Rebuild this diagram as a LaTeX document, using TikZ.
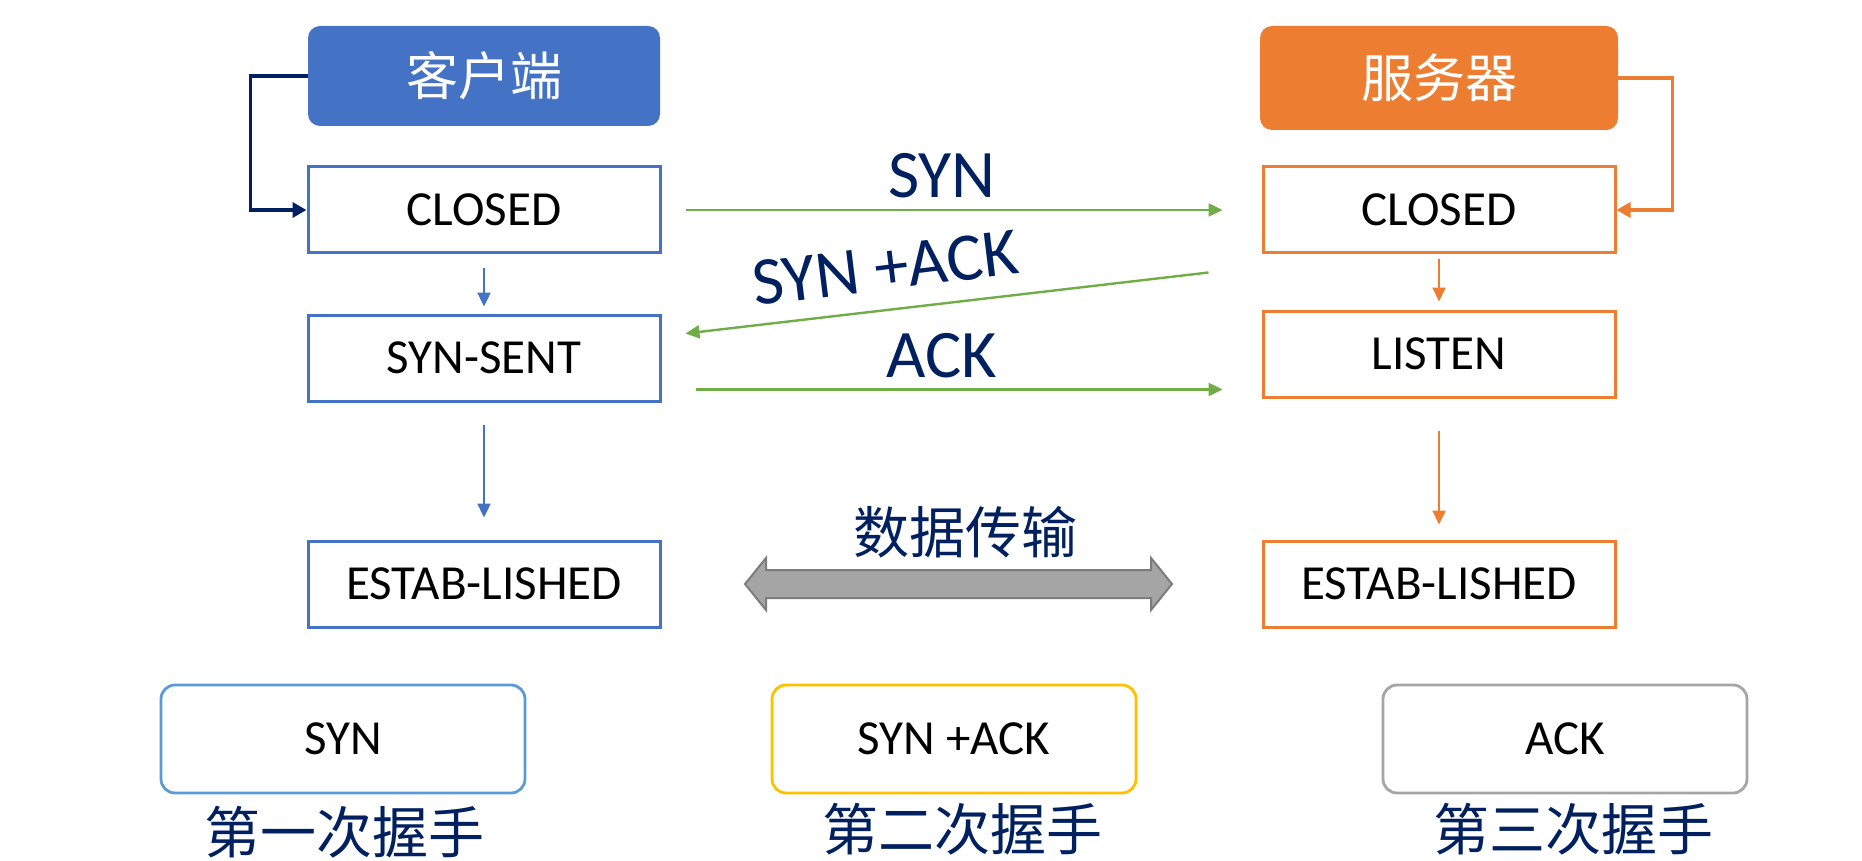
\documentclass[tikz,border=0pt]{standalone}
\usepackage{fontspec}
\setmainfont{Carlito}
\newfontfamily\cjk{Noto Sans CJK SC}
\usetikzlibrary{arrows.meta}
\definecolor{cblue}{HTML}{4472C4}
\definecolor{sorange}{HTML}{ED7D31}
\definecolor{lgreen}{HTML}{70AD47}
\definecolor{navy}{HTML}{002060}
\definecolor{lblue}{HTML}{5B9BD5}
\definecolor{gold}{HTML}{FFC000}
\definecolor{lgray}{HTML}{A5A5A5}
\begin{document}
\begin{tikzpicture}[x=0.5pt, y=-0.5pt,
    head/.style={rounded corners=6pt, minimum width=176pt, minimum height=50pt,
        text=white, font=\cjk\fontsize{26}{30}\selectfont},
    state/.style={draw, line width=1.5pt, fill=white, minimum width=176pt,
        minimum height=43pt, font=\fontsize{24.5}{28}\selectfont},
    shake/.style={draw, line width=1.4pt, rounded corners=7pt, minimum width=182pt,
        minimum height=54pt, font=\fontsize{24.5}{28}\selectfont},
    msg/.style={text=navy, font=\fontsize{34}{40}\selectfont},
    cntext/.style={text=navy, font=\cjk\fontsize{28}{32}\selectfont},
    tip/.style={line width=1.2pt, -{Triangle[length=7pt, width=6.5pt]}},
    loopline/.style={line width=1.8pt, -{Triangle[length=7pt, width=7.5pt]}}]
    \useasboundingbox (0,0) rectangle (1862,861);

    % headers
    \node[head, fill=cblue] (chead) at (484,76) {客户端};
    \node[head, fill=sorange, minimum width=179pt, minimum height=52pt] (shead) at (1439,78) {服务器};

    % states
    \node[state, draw=cblue] (cclosed) at (484,210) {CLOSED};
    \node[state, draw=cblue] (synsent) at (484,358) {SYN-SENT};
    \node[state, draw=cblue] (cestab) at (484,584) {ESTAB-LISHED};
    \node[state, draw=sorange] (sclosed) at (1439,210) {CLOSED};
    \node[state, draw=sorange] (listen) at (1439,354) {LISTEN};
    \node[state, draw=sorange] (sestab) at (1439,584) {ESTAB-LISHED};

    \draw[loopline, navy] (chead.west) -- ++(-57,0) |- (cclosed.west);
    \draw[loopline, sorange] (shead.east) -- ++(54,0) |- (sclosed.east);

    \draw[tip, cblue, shorten <=7pt, shorten >=3.5pt] (cclosed) -- (synsent);
    \draw[tip, cblue, shorten <=11pt, shorten >=11pt] (synsent) -- (cestab);
    \draw[tip, sorange, shorten <=2.5pt, shorten >=4pt] (sclosed) -- (listen);
    \draw[tip, sorange, shorten <=16pt, shorten >=7.5pt] (listen) -- (sestab);

    % handshake messages
    \draw[tip, lgreen, shorten <=12pt, shorten >=19.5pt] (cclosed) -- (sclosed);
    \draw[tip, lgreen] ([shift={(-53,18)}]sclosed.south west)
        -- ([shift={(24,20)}]synsent.north east);
    \draw[tip, lgreen] ([shift={(34,-13)}]synsent.south east)
        -- ([shift={(-39,-9)}]listen.south west);
    \node[msg] (lsyn) at (942,176) {SYN};
    \node[msg, rotate=7] (lsynack) at (885,268) {SYN +ACK};
    \node[msg] (lack) at (942,356) {ACK};

    % data transfer
    \draw[fill=lgray, draw=lgray!75!black, line width=1pt]
        (745,584) -- (766,558) -- (766,570) -- (1151,570) -- (1151,558)
        -- (1172,584) -- (1151,610) -- (1151,598) -- (766,598) -- (766,610) -- cycle;
    \node[cntext] (xfer) at (965,532) {数据传输};

    % steps
    \node[shake, draw=lblue] (bsyn) at (343,739) {SYN};
    \node[shake, draw=gold] (bsynack) at (954,739) {SYN +ACK};
    \node[shake, draw=lgray] (back) at (1565,739) {ACK};
    \node[cntext] (first) at (344,832) {第一次握手};
    \node[cntext] (second) at (962,829) {第二次握手};
    \node[cntext] (third) at (1573,829) {第三次握手};
\end{tikzpicture}
\end{document}
